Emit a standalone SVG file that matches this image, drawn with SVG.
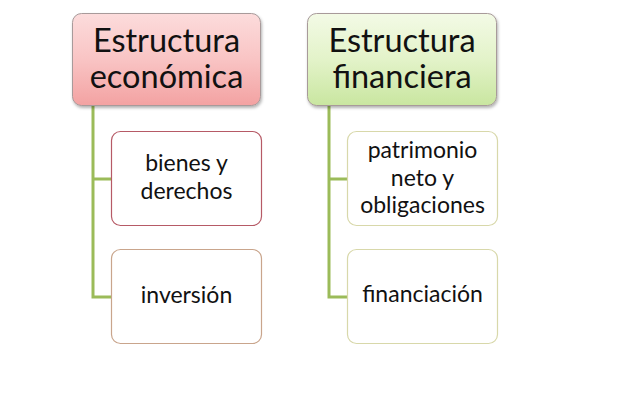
<svg xmlns="http://www.w3.org/2000/svg" width="640" height="400" viewBox="0 0 640 400">
  <defs>
    <linearGradient id="gPink" x1="0" y1="0" x2="0" y2="1">
      <stop offset="0" stop-color="#fcdcdc"/>
      <stop offset="0.5" stop-color="#f9c4c4"/>
      <stop offset="1" stop-color="#f3a2a2"/>
    </linearGradient>
    <linearGradient id="gGreen" x1="0" y1="0" x2="0" y2="1">
      <stop offset="0" stop-color="#f3fae6"/>
      <stop offset="0.5" stop-color="#e3f3c9"/>
      <stop offset="1" stop-color="#c9e6a0"/>
    </linearGradient>
    <filter id="shadow" x="-10%" y="-10%" width="130%" height="130%">
      <feDropShadow dx="1" dy="2" stdDeviation="1.5" flood-color="#000" flood-opacity="0.3"/>
    </filter>
  </defs>
  <style>
    .head { stroke: #a89a9a; stroke-width: 1; filter: url(#shadow); }
    .child { fill: #ffffff; stroke-width: 1.2; }
    .conn { fill: none; stroke: #9bbb59; stroke-width: 3; }
    .t1 { font-family: Lato, "Open Sans", sans-serif; font-size: 32.5px; fill: #111; text-anchor: middle; }
    .t2 { font-family: Lato, "Open Sans", sans-serif; font-size: 23px; fill: #111; text-anchor: middle; }
  </style>
  <rect width="640" height="400" fill="#ffffff"/>

  <g id="connectors">
    <path class="conn" d="M93 106 V297 H112 M93 179 H112"/>
    <path class="conn" d="M329 106 V297 H348 M329 179 H348"/>
  </g>

  <g id="node-economica">
    <rect class="head" x="72.5" y="13.5" width="188" height="92" rx="9" fill="url(#gPink)"/>
    <text class="t1" x="166.5" y="52">Estructura</text>
    <text class="t1" x="166.5" y="88">económica</text>
  </g>
  <g id="node-bienes">
    <rect class="child" x="111.5" y="131.5" width="150" height="94" rx="9" stroke="#b65a66"/>
    <text class="t2" x="186.5" y="171">bienes y</text>
    <text class="t2" x="186.5" y="199">derechos</text>
  </g>
  <g id="node-inversion">
    <rect class="child" x="111.5" y="249.5" width="150" height="94" rx="9" stroke="#c9a58c"/>
    <text class="t2" x="186.5" y="303">inversión</text>
  </g>

  <g id="node-financiera">
    <rect class="head" x="307.5" y="13.5" width="189" height="92" rx="9" fill="url(#gGreen)"/>
    <text class="t1" x="402" y="52">Estructura</text>
    <text class="t1" x="402" y="88">financiera</text>
  </g>
  <g id="node-patrimonio">
    <rect class="child" x="347.5" y="131.5" width="150" height="94" rx="9" stroke="#d8d8aa"/>
    <text class="t2" x="422.5" y="158">patrimonio</text>
    <text class="t2" x="422.5" y="186">neto y</text>
    <text class="t2" x="422.5" y="213">obligaciones</text>
  </g>
  <g id="node-financiacion">
    <rect class="child" x="347.5" y="249.5" width="150" height="94" rx="9" stroke="#d8d8aa"/>
    <text class="t2" x="422.5" y="302">financiación</text>
  </g>
</svg>
